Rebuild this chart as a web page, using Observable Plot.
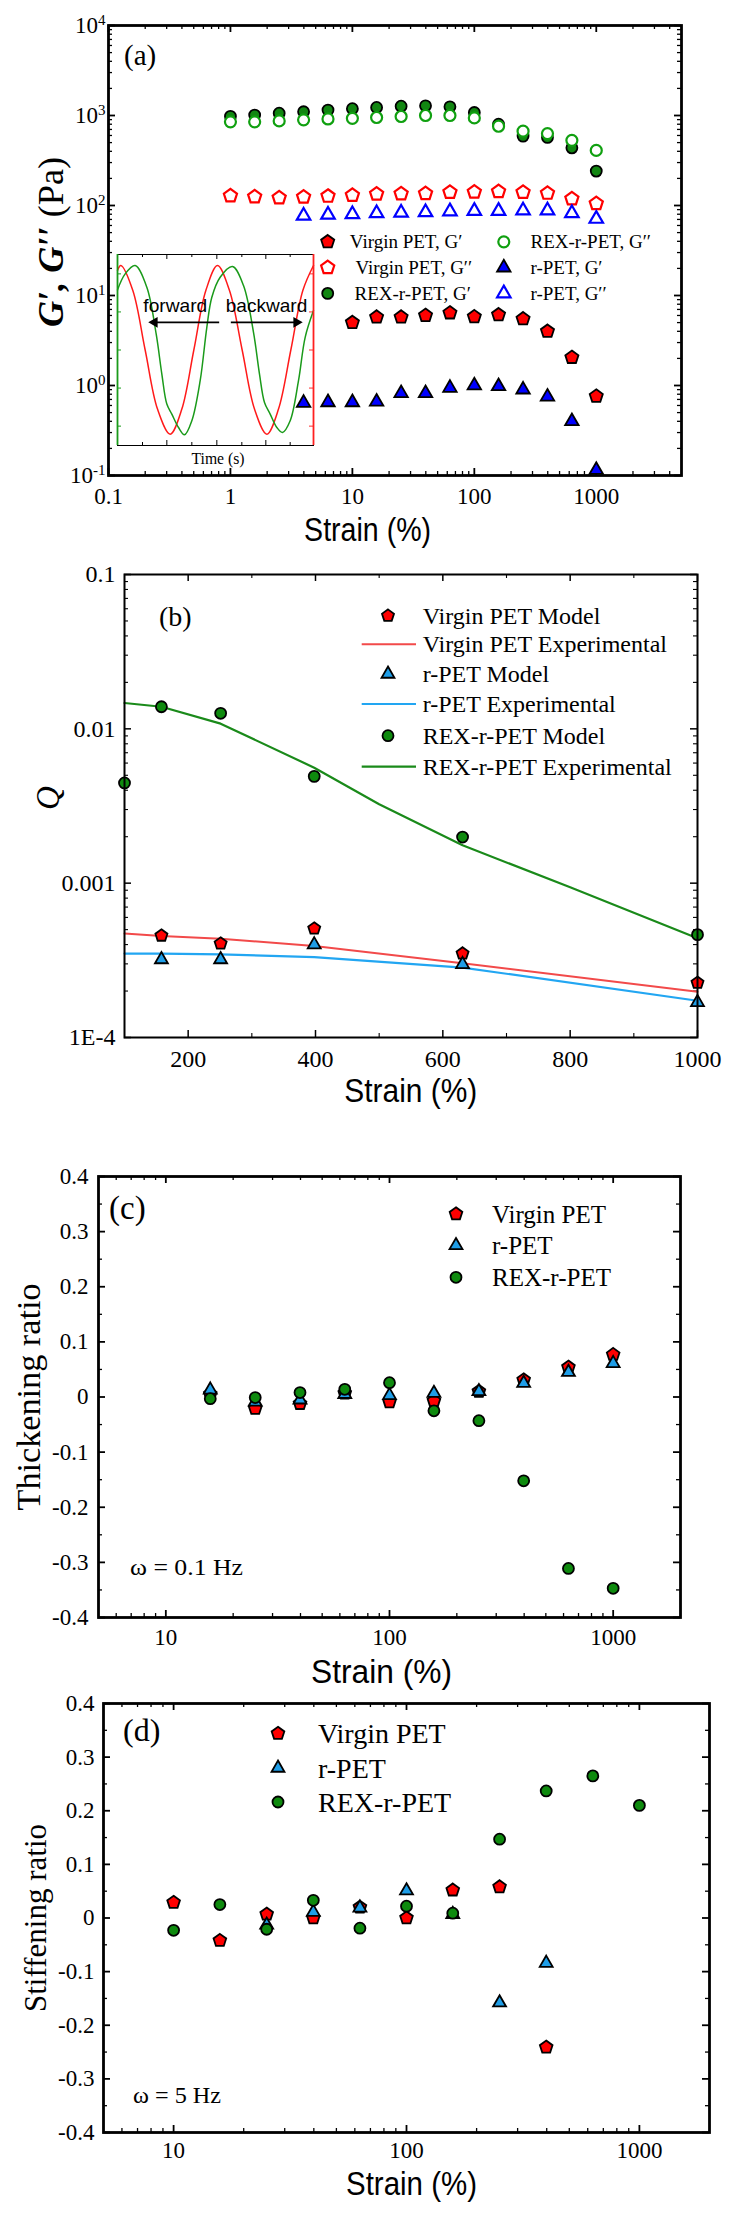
<!DOCTYPE html>
<html><head><meta charset="utf-8">
<script src="https://cdn.jsdelivr.net/npm/d3@7"></script>
<script src="https://cdn.jsdelivr.net/npm/@observablehq/plot@0.6"></script>
<style>
body{margin:0;background:#fff;}
#root{position:relative;width:736px;height:2216px;overflow:hidden;background:#fff;}
</style></head><body><div id="root"></div>
<script>
// ---------- Panel (a) data: amplitude sweep ----------
const strainA = [1,1.58,2.51,3.98,6.31,10,15.8,25.1,39.8,63.1,100,158,251,398,631,1000];
const virginGpStrain = [10,15.8,25.1,39.8,63.1,100,158,251,398,631,1000];
const virginGp = [5.0,5.75,5.75,6.0,6.4,5.8,6.1,5.5,4.0,2.05,0.76];
const virginGpp = [128,125,122,124,127,130,134,135,136,140,141,143,140,137,119,105];
const rexGp = [980,1010,1060,1100,1150,1190,1230,1270,1280,1250,1080,800,590,570,437,241];
const rexGpp = [850,850,870,895,915,930,950,975,1000,1000,940,760,670,630,530,409];
const rpetStrainA = [3.98,6.31,10,15.8,25.1,39.8,63.1,100,158,251,398,631,1000];
const rpetGp = [0.64,0.65,0.65,0.66,0.82,0.82,0.94,1.0,0.98,0.90,0.75,0.40,0.115];
const rpetGpp = [77,79,80,82,83,84,86,87,87,88,88,82,71];

// inset (schematic waveforms)
const redT = [0,0.10,0.46,0.83,1.20,1.58,1.93,2.29,2.65,3.00,3.36,3.74,4.11,4.48,4.83,5.20,5.56,5.88];
const redA = [2.38,2.53,1.78,0,-1.77,-2.52,-1.77,0,1.78,2.53,1.78,0,-1.77,-2.52,-1.77,0,1.78,2.53];
const greenT = [0,0.23,0.53,0.88,1.16,1.33,1.48,1.63,1.83,2.01,2.23,2.48,2.68,2.83,3.08,3.45,3.78,4.08,4.26,4.41,4.58,4.78,4.95,5.18,5.43,5.63,5.88];
const greenA = [1.80,2.28,2.53,1.88,0.48,-0.72,-1.62,-1.92,-2.32,-2.54,-2.12,-0.92,0.68,1.58,2.18,2.50,1.93,0.53,-0.72,-1.57,-1.92,-2.32,-2.47,-2.12,-0.92,0.38,1.18];
const insetArrows = [{x1:3.05,x2:1.11,y:0.83,rot:-90},{x1:3.40,x2:5.37,y:0.83,rot:90}];

// ---------- Panel (b) data: Q ----------
const strainB = [100,158,251,398,631,1000];
const rexModel = [0.00446,0.0139,0.0126,0.00492,0.00199,0.000464];
const modelStrainB = [158,251,398,631,1000];
const virginModel = [0.000457,0.000406,0.000508,0.00035,0.000226];
const rpetModel = [0.00032,0.00032,0.0004,0.000298,0.000169];
const virginExp = [0.000472,0.000455,0.000436,0.000392,0.000303,0.000198];
const rpetExp = [0.00035,0.000349,0.000346,0.000332,0.000284,0.000173];
const rexExpStrain = [100,158,251,398,500,631,800,1000];
const rexExp = [0.0147,0.0139,0.0108,0.0056,0.00325,0.00176,0.00094,0.00044];

// ---------- Panel (c) data: thickening ratio ----------
const strainC = [15.8,25.1,39.8,63.1,100,158,251,398,631,1000];
const virginThick = [0.005,-0.021,-0.012,0.007,-0.009,-0.007,0.010,0.031,0.054,0.077];
const rpetThick = [0.013,-0.009,-0.005,0.005,0.003,0.007,0.010,0.025,0.045,0.061];
const rexThick = [-0.003,-0.001,0.008,0.014,0.026,-0.025,-0.043,-0.152,-0.311,-0.347];

// ---------- Panel (d) data: stiffening ratio ----------
const strainD = [10,15.8,25.1,39.8,63.1,100,158,251,398,631,1000];
const virginStiffStrain = [10,15.8,25.1,39.8,63.1,100,158,251,398];
const virginStiff = [0.029,-0.042,0.007,0.0,0.02,0.0,0.052,0.058,-0.241];
const rpetStiffStrain = [25.1,39.8,63.1,100,158,251,398];
const rpetStiff = [-0.013,0.011,0.019,0.051,0.007,-0.158,-0.084];
const rexStiff = [-0.023,0.025,-0.021,0.033,-0.019,0.022,0.009,0.147,0.237,0.265,0.21];

// ---------- tick labels ----------
const xTicksA = [0.1,1,10,100,1000];
const yTicksA = [0.1,1,10,100,1000,10000];
const xTicksB = [200,400,600,800,1000];
const xMinorB = [300,500,700,900];
const yTicksB = [0.0001,0.001,0.01,0.1];
const yLabelsB = ["1E-4","0.001","0.01","0.1"];
const xTicksCD = [10,100,1000];
const yTicksCD = [-0.4,-0.3,-0.2,-0.1,0,0.1,0.2,0.3,0.4];
const yMinorCD = [-0.35,-0.25,-0.15,-0.05,0.05,0.15,0.25,0.35];

// ---------- helpers ----------
const root = document.getElementById("root");
const serif = "'Liberation Serif','Times New Roman',serif";
const sans = "'Liberation Sans',Arial,sans-serif";
const RED = "#ff0000", GREEN = "#0e8a0e", LBLUE = "#1f9ee8";

const pentagon = {draw(ctx, size){
  const R = Math.sqrt(size/2.378);
  for (let i=0;i<5;i++){const a=-Math.PI/2+i*2*Math.PI/5; const x=R*Math.cos(a), y=R*Math.sin(a); if(i) ctx.lineTo(x,y); else ctx.moveTo(x,y);}
  ctx.closePath();
}};

function logMinor(lo, hi){
  const t=[];
  for(let e=Math.floor(Math.log10(lo)); e<=Math.ceil(Math.log10(hi)); e++)
    for(let m=2;m<=9;m++){const v=+(m*Math.pow(10,e)).toPrecision(3); if(v>lo && v<hi) t.push(v);}
  return t;
}
function boxTicks({xMaj,xMin,yMaj,yMin,iw,ih,maj=7,min=4,swMaj=1.8,swMin=1.3}){
  return [
    Plot.tickX(xMaj,{x:d=>d,insetTop:ih-maj,strokeWidth:swMaj}),
    Plot.tickX(xMaj,{x:d=>d,insetBottom:ih-maj,strokeWidth:swMaj}),
    Plot.tickX(xMin,{x:d=>d,insetTop:ih-min,strokeWidth:swMin}),
    Plot.tickX(xMin,{x:d=>d,insetBottom:ih-min,strokeWidth:swMin}),
    Plot.tickY(yMaj,{y:d=>d,insetRight:iw-maj,strokeWidth:swMaj}),
    Plot.tickY(yMaj,{y:d=>d,insetLeft:iw-maj,strokeWidth:swMaj}),
    Plot.tickY(yMin,{y:d=>d,insetRight:iw-min,strokeWidth:swMin}),
    Plot.tickY(yMin,{y:d=>d,insetLeft:iw-min,strokeWidth:swMin})
  ];
}
function place(el,left,top){el.style.position="absolute";el.style.left=left+"px";el.style.top=top+"px";root.appendChild(el);return el;}

// ---------- inset ----------
const inset = Plot.plot({
  width:200,height:195,marginTop:2,marginBottom:2,marginLeft:2,marginRight:2,
  style:{background:"white",overflow:"visible"},
  x:{domain:[0,5.88],axis:null}, y:{domain:[-2.86,2.86],axis:null},
  marks:[
    Plot.tickX([1.48,2.98,4.45],{x:d=>d,insetTop:186,strokeWidth:1}),
    Plot.tickX([1.48,2.98,4.45],{x:d=>d,insetBottom:186,strokeWidth:1}),
    Plot.tickX([0.75,2.23,3.73,5.18],{x:d=>d,insetTop:188,strokeWidth:1}),
    Plot.tickX([0.75,2.23,3.73,5.18],{x:d=>d,insetBottom:188,strokeWidth:1}),
    Plot.tickY([2.28,1.14,0,-1.14,-2.28],{y:d=>d,insetRight:192,stroke:"#1a9a1a"}),
    Plot.tickY([2.28,1.14,0,-1.14,-2.28],{y:d=>d,insetLeft:192,stroke:"#ff3030"}),
    Plot.line(redT,{x:redT,y:redA,stroke:"#ff1a1a",strokeWidth:1.5,curve:"catmull-rom"}),
    Plot.line(greenT,{x:greenT,y:greenA,stroke:"#1a9a1a",strokeWidth:1.5,curve:"catmull-rom"}),
    Plot.link(insetArrows,{x1:"x1",x2:"x2",y1:"y",y2:"y",stroke:"#000",strokeWidth:1.8}),
    Plot.dot(insetArrows,{x:"x2",y:"y",symbol:"triangle",r:4,fill:"#000",stroke:"none",rotate:"rot"}),
    Plot.frame({stroke:"#000",strokeWidth:1}),
    Plot.ruleX([0],{stroke:"#1a9a1a",strokeWidth:1.8}),
    Plot.ruleX([5.88],{stroke:"#ff2020",strokeWidth:1.8})
  ]
});
place(inset,115,252);

// ---------- panel (a) ----------
const pa = Plot.plot({
  width:736,height:550,marginLeft:108,marginRight:55,marginTop:25,marginBottom:75,
  style:{fontFamily:serif,fontSize:"23px",background:"transparent",overflow:"visible"},
  x:{type:"log",domain:[0.1,5000],axis:null},
  y:{type:"log",domain:[0.1,10000],axis:null},
  marks:[
    ...boxTicks({xMaj:xTicksA,xMin:logMinor(0.1,5000),yMaj:yTicksA,yMin:logMinor(0.1,10000),iw:573,ih:450}),
    Plot.axisX({ticks:xTicksA,tickSize:0,tickPadding:12,tickFormat:d=>String(d),label:null}),
    Plot.axisY({ticks:yTicksA,tickSize:0,tickPadding:3,tickFormat:d=>"10^"+Math.round(Math.log10(d)),label:null}),
    Plot.dot(virginGpStrain,{x:virginGpStrain,y:virginGp,symbol:pentagon,r:6,fill:RED,stroke:"#000",strokeWidth:1.8}),
    Plot.dot(strainA,{x:strainA,y:virginGpp,symbol:pentagon,r:6,fill:"white",stroke:RED,strokeWidth:2.2}),
    Plot.dot(strainA,{x:strainA,y:rexGp,r:5.5,fill:"#128612",stroke:"#000",strokeWidth:1.8}),
    Plot.dot(strainA,{x:strainA,y:rexGpp,r:5.5,fill:"white",stroke:"#10a010",strokeWidth:2.2}),
    Plot.dot(rpetStrainA,{x:rpetStrainA,y:rpetGp,symbol:"triangle",r:5,fill:"#0000ff",stroke:"#000",strokeWidth:1.8}),
    Plot.dot(rpetStrainA,{x:rpetStrainA,y:rpetGpp,symbol:"triangle",r:5,fill:"white",stroke:"#0000ff",strokeWidth:2.2}),
    Plot.frame({strokeWidth:2.8})
  ]
});
d3.select(pa).selectAll('g[aria-label="y-axis tick label"] text').each(function(){
  const e=this.textContent.split("^")[1]; this.textContent="";
  d3.select(this).append("tspan").text("10");
  d3.select(this).append("tspan").attr("dy","-0.5em").attr("font-size","15px").text(e);
});
place(pa,0,0);

// ---------- panel (b) ----------
const pb = Plot.plot({
  width:736,height:560,marginLeft:124,marginRight:39,marginTop:24,marginBottom:73,
  style:{fontFamily:serif,fontSize:"24px",background:"transparent",overflow:"visible"},
  x:{domain:[100,1000],axis:null},
  y:{type:"log",domain:[0.0001,0.1],axis:null},
  marks:[
    ...boxTicks({xMaj:xTicksB,xMin:xMinorB,yMaj:yTicksB,yMin:logMinor(0.0001,0.1),iw:573,ih:463,swMaj:1.5,swMin:1.1}),
    Plot.axisX({ticks:xTicksB,tickSize:0,tickPadding:12,tickFormat:d=>String(d),label:null}),
    Plot.axisY({ticks:yTicksB,tickSize:0,tickPadding:9,tickFormat:d=>yLabelsB[yTicksB.indexOf(d)],label:null}),
    Plot.line(strainB,{x:strainB,y:virginExp,stroke:"#f24a4a",strokeWidth:2}),
    Plot.line(strainB,{x:strainB,y:rpetExp,stroke:"#22a6f2",strokeWidth:2.2}),
    Plot.line(rexExpStrain,{x:rexExpStrain,y:rexExp,stroke:"#1a8a1a",strokeWidth:2.2}),
    Plot.dot(modelStrainB,{x:modelStrainB,y:virginModel,symbol:pentagon,r:5.5,fill:RED,stroke:"#000",strokeWidth:1.8}),
    Plot.dot(modelStrainB,{x:modelStrainB,y:rpetModel,symbol:"triangle",r:4.8,fill:LBLUE,stroke:"#000",strokeWidth:1.8}),
    Plot.dot(strainB,{x:strainB,y:rexModel,r:5.5,fill:GREEN,stroke:"#000",strokeWidth:1.8}),
    Plot.frame({strokeWidth:2})
  ]
});
place(pb,0,550);

// ---------- panel (c) ----------
const fmtCD = d => d===0 ? "0" : d.toFixed(1);
const pc = Plot.plot({
  width:736,height:580,marginLeft:98,marginRight:56,marginTop:66,marginBottom:73,
  style:{fontFamily:serif,fontSize:"23px",background:"transparent",overflow:"visible"},
  x:{type:"log",domain:[5,2000],axis:null},
  y:{domain:[-0.4,0.4],axis:null},
  marks:[
    ...boxTicks({xMaj:xTicksCD,xMin:logMinor(5,2000),yMaj:yTicksCD,yMin:yMinorCD,iw:582,ih:441}),
    Plot.axisX({ticks:xTicksCD,tickSize:0,tickPadding:11,tickFormat:d=>String(d),label:null}),
    Plot.axisY({ticks:yTicksCD,tickSize:0,tickPadding:10,tickFormat:fmtCD,label:null}),
    Plot.dot(strainC,{x:strainC,y:virginThick,symbol:pentagon,r:5.8,fill:RED,stroke:"#000",strokeWidth:1.8}),
    Plot.dot(strainC,{x:strainC,y:rpetThick,symbol:"triangle",r:4.8,fill:LBLUE,stroke:"#000",strokeWidth:1.8}),
    Plot.dot(strainC,{x:strainC,y:rexThick,r:5.5,fill:GREEN,stroke:"#000",strokeWidth:1.8}),
    Plot.frame({strokeWidth:2.8})
  ]
});
place(pc,0,1110);

// ---------- panel (d) ----------
const pd = Plot.plot({
  width:736,height:526,marginLeft:103,marginRight:27,marginTop:13,marginBottom:84,
  style:{fontFamily:serif,fontSize:"23px",background:"transparent",overflow:"visible"},
  x:{type:"log",domain:[5,2000],axis:null},
  y:{domain:[-0.4,0.4],axis:null},
  marks:[
    ...boxTicks({xMaj:xTicksCD,xMin:logMinor(5,2000),yMaj:yTicksCD,yMin:yMinorCD,iw:606,ih:429}),
    Plot.axisX({ticks:xTicksCD,tickSize:0,tickPadding:9,tickFormat:d=>String(d),label:null}),
    Plot.axisY({ticks:yTicksCD,tickSize:0,tickPadding:9,tickFormat:fmtCD,label:null}),
    Plot.dot(virginStiffStrain,{x:virginStiffStrain,y:virginStiff,symbol:pentagon,r:5.8,fill:RED,stroke:"#000",strokeWidth:1.8}),
    Plot.dot(rpetStiffStrain,{x:rpetStiffStrain,y:rpetStiff,symbol:"triangle",r:4.8,fill:LBLUE,stroke:"#000",strokeWidth:1.8}),
    Plot.dot(strainD,{x:strainD,y:rexStiff,r:5.5,fill:GREEN,stroke:"#000",strokeWidth:1.8}),
    Plot.frame({strokeWidth:2.8})
  ]
});
place(pd,0,1690);

// ---------- overlay: titles, legends, annotations ----------
const ov = d3.select(root).append("svg").attr("width",736).attr("height",2216)
  .style("position","absolute").style("left","0px").style("top","0px");
function txt(x,y,s,{size=24,family=serif,anchor="start",rotate=0,len=null,italic=false}={}){
  const t=ov.append("text").attr("transform",`translate(${x},${y})`+(rotate?` rotate(${rotate})`:""))
    .attr("font-family",family).attr("font-size",size).attr("text-anchor",anchor).attr("fill","#000");
  if(italic) t.attr("font-style","italic");
  if(s!==null) t.text(s);
  if(len) t.attr("textLength",len).attr("lengthAdjust","spacingAndGlyphs");
  return t;
}
function sym(x,y,type,r,fill,stroke,sw){
  ov.append("path").attr("d",d3.symbol(type,Math.PI*r*r)()).attr("transform",`translate(${x},${y})`)
    .attr("fill",fill).attr("stroke",stroke).attr("stroke-width",sw);
}

// panel labels
txt(124,65,"(a)",{size:29});
txt(159,626,"(b)",{size:28});
txt(109,1219,"(c)",{size:33});
txt(123,1741,"(d)",{size:32});
txt(130,1575,"ω = 0.1 Hz",{size:24,len:113});
txt(133,2103,"ω = 5 Hz",{size:24,len:88});

// axis titles
txt(367.6,541,"Strain (%)",{family:sans,size:33,anchor:"middle",len:127});
txt(410.8,1102,"Strain (%)",{family:sans,size:33,anchor:"middle",len:133});
txt(381.5,1683,"Strain (%)",{family:sans,size:33,anchor:"middle",len:141});
txt(411.5,2195,"Strain (%)",{family:sans,size:33,anchor:"middle",len:131});
// G', G'' (Pa) — centred manually (tspans)
{
  let size = 34;
  const gl = txt(0,0,null,{size,anchor:"start"});
  gl.append("tspan").attr("font-weight","bold").attr("font-style","italic").text("G′, G′′");
  gl.append("tspan").text(" (Pa)");
  let L = gl.node().getComputedTextLength();
  if (L > 0) { size = size*170/L; gl.attr("font-size", size); L = gl.node().getComputedTextLength(); }
  gl.attr("transform", `translate(63,${242 + L/2}) rotate(-90)`);
}
txt(59,798,"Q",{size:33,anchor:"middle",rotate:-90,italic:true});
txt(40,1397,"Thickening ratio",{size:34,anchor:"middle",rotate:-90,len:227});
txt(45.5,1918,"Stiffening ratio",{size:32,anchor:"middle",rotate:-90,len:188});

// inset labels
txt(175.3,311.7,"forward",{family:sans,size:19,anchor:"middle",len:64});
txt(266.5,311.7,"backward",{family:sans,size:19,anchor:"middle",len:81.6});
txt(218,464,"Time (s)",{size:16,anchor:"middle",len:53});

// legend (a)
const la = [
  [327.7,241.8,pentagon,6,RED,"#000",1.8,349.8,"Virgin PET, G′"],
  [327.7,267.6,pentagon,6,"white",RED,2.2,355.4,"Virgin PET, G′′"],
  [327.7,293.4,d3.symbolCircle,5.5,"#128612","#000",1.8,354.5,"REX-r-PET, G′"],
  [503.8,241.8,d3.symbolCircle,5.5,"white","#10a010",2.2,530.5,"REX-r-PET, G′′"],
  [503.8,267.6,d3.symbolTriangle,5,"#0000ff","#000",1.8,530.5,"r-PET, G′"],
  [503.8,293.4,d3.symbolTriangle,5,"white","#0000ff",2.2,530.5,"r-PET, G′′"]
];
la.forEach(([x,y,t,r,f,s,w,tx,label])=>{sym(x,y,t,r,f,s,w); txt(tx,y+6.3,label,{size:19});});

// legend (b)
const lbRows = [615.7,644.3,674,704,735.7,766.7];
sym(388,lbRows[0],pentagon,5.5,RED,"#000",1.8);
ov.append("line").attr("x1",361.7).attr("x2",416).attr("y1",lbRows[1]).attr("y2",lbRows[1]).attr("stroke","#f24a4a").attr("stroke-width",2);
sym(388,lbRows[2],d3.symbolTriangle,4.8,LBLUE,"#000",1.8);
ov.append("line").attr("x1",361.7).attr("x2",416).attr("y1",lbRows[3]).attr("y2",lbRows[3]).attr("stroke","#22a6f2").attr("stroke-width",2.2);
sym(388,lbRows[4],d3.symbolCircle,5.5,GREEN,"#000",1.8);
ov.append("line").attr("x1",361.7).attr("x2",416).attr("y1",lbRows[5]).attr("y2",lbRows[5]).attr("stroke","#1a8a1a").attr("stroke-width",2.2);
["Virgin PET Model","Virgin PET Experimental","r-PET Model","r-PET Experimental","REX-r-PET Model","REX-r-PET Experimental"]
  .forEach((s,i)=>txt(422.7,lbRows[i]+8,s,{size:24}));

// legend (c)
const lcRows=[1214,1245.4,1277.3];
sym(456,lcRows[0],pentagon,5.8,RED,"#000",1.8);
sym(456,lcRows[1],d3.symbolTriangle,4.8,LBLUE,"#000",1.8);
sym(456,lcRows[2],d3.symbolCircle,5.5,GREEN,"#000",1.8);
["Virgin PET","r-PET","REX-r-PET"].forEach((s,i)=>txt(492,lcRows[i]+8.5,s,{size:25}));

// legend (d)
const ldRows=[1733.5,1768,1802];
sym(278,ldRows[0],pentagon,5.8,RED,"#000",1.8);
sym(278,ldRows[1],d3.symbolTriangle,4.8,LBLUE,"#000",1.8);
sym(278,ldRows[2],d3.symbolCircle,5.5,GREEN,"#000",1.8);
["Virgin PET","r-PET","REX-r-PET"].forEach((s,i)=>txt(318,ldRows[i]+9.5,s,{size:28}));
</script></body></html>
